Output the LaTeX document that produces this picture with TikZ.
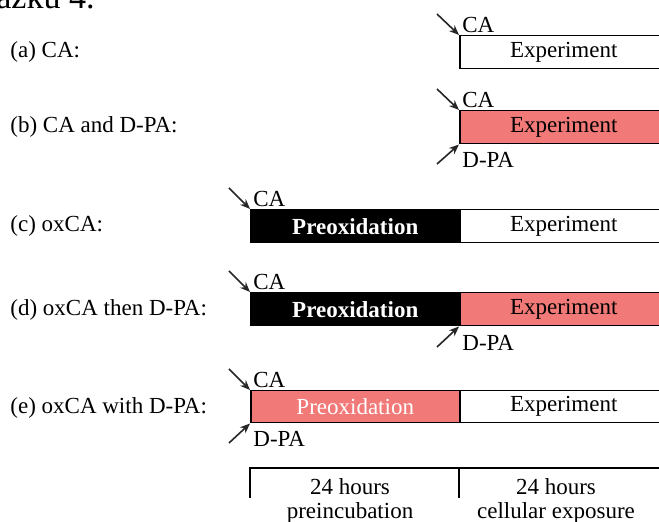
\documentclass[tikz,border=0pt]{standalone}
\usepackage{fontspec}
\setmainfont{Liberation Serif}
\usetikzlibrary{arrows.meta}
\definecolor{salmon}{RGB}{241,122,120}
\begin{document}
\begin{tikzpicture}[x=0.5pt,y=-0.5pt,
  every node/.style={font=\fontsize{11.5}{13.5}\selectfont},
  phase/.style={draw=black,line width=0.75pt,minimum height=16.5pt,inner sep=0pt,anchor=north west},
  exp/.style={phase,minimum width=104pt},
  pre/.style={phase,minimum width=104.5pt},
  lab/.style={anchor=west,inner sep=0pt},
  tag/.style={anchor=base west,inner sep=0pt},
  arr/.style={-{Stealth[length=5pt,width=4pt]},line width=0.8pt,draw=black!85}]
\clip (0,0) rectangle (659,522);
\useasboundingbox (0,0) rectangle (659,522);
% cropped caption fragment
\node[anchor=base west,inner sep=0pt,font=\fontsize{17}{19}\selectfont] (cap) at (-4,9) {ázku 4.};
% (a)
\node[lab] (la) at (10,52) {(a) CA:};
\node[exp] (ea) at (459,35) {Experiment};
\coordinate (ca1) at (437,14);
\draw[arr] (ca1) -- (ea.north west);
\node[tag] (ta) at (462,33) {CA};
% (b)
\node[lab] (lb) at (10,127) {(b) CA and D-PA:};
\node[exp,fill=salmon] (eb) at (459,110) {Experiment};
\coordinate (ca2) at (437,89);
\coordinate (dp2) at (437,164);
\draw[arr] (ca2) -- (eb.north west);
\draw[arr] (dp2) -- (eb.south west);
\node[tag] (tb1) at (462,108) {CA};
\node[tag] (tb2) at (462,168) {D-PA};
% (c)
\node[lab] (lc) at (10,226) {(c) oxCA:};
\node[pre,fill=black,text=white] (pc) at (250,209) {\textbf{Preoxidation}};
\node[exp] (ec) at (459,209) {Experiment};
\coordinate (ca3) at (229,188);
\draw[arr] (ca3) -- (pc.north west);
\node[tag] (tc) at (253,207) {CA};
% (d)
\node[lab] (ld) at (10,310) {(d) oxCA then D-PA:};
\node[pre,fill=black,text=white] (pd) at (250,292) {\textbf{Preoxidation}};
\node[exp,fill=salmon] (ed) at (459,292) {Experiment};
\coordinate (ca4) at (229,271);
\coordinate (dp4) at (437,347);
\draw[arr] (ca4) -- (pd.north west);
\draw[arr] (dp4) -- (ed.south west);
\node[tag] (td1) at (253,290) {CA};
\node[tag] (td2) at (462,351) {D-PA};
% (e)
\node[lab] (le) at (10,408) {(e) oxCA with D-PA:};
\node[pre,fill=salmon,text=white,minimum height=16pt] (pe) at (250,390) {Preoxidation};
\node[exp,minimum height=16pt] (ee) at (459,390) {Experiment};
\coordinate (ca5) at (229,369);
\coordinate (dp5) at (229,443);
\draw[arr] (ca5) -- (pe.north west);
\draw[arr] (dp5) -- (pe.south west);
\node[tag] (te1) at (253,388) {CA};
\node[tag] (te2) at (253,447) {D-PA};
% timeline
\coordinate (t0) at (250,468);
\coordinate (t1) at (459,468);
\coordinate (t2) at (670,468);
\coordinate (b0) at (250,498);
\coordinate (b1) at (459,498);
\draw[line width=0.75pt] (b0) -- (t0) -- (t2);
\draw[line width=0.75pt] (t1) -- (b1);
\node[align=center,inner sep=0pt,anchor=north,font=\fontsize{11.5}{12}\selectfont] (h1) at (350,478) {24 hours\\preincubation};
\node[align=center,inner sep=0pt,anchor=north,font=\fontsize{11.5}{12}\selectfont] (h2) at (556,478) {24 hours\\cellular exposure};
\end{tikzpicture}
\end{document}
